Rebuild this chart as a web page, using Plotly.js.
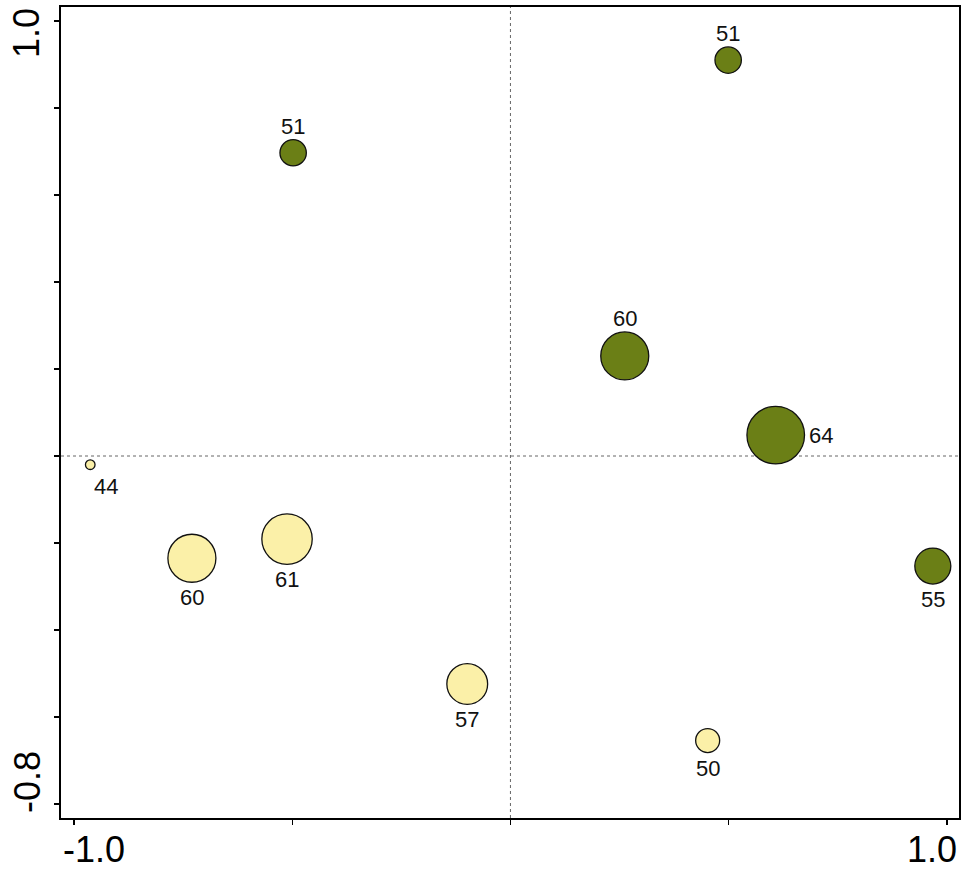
<!DOCTYPE html>
<html>
<head>
<meta charset="utf-8">
<script src="https://cdn.plot.ly/plotly-3.0.1.min.js"></script>
<style>html,body{margin:0;padding:0;background:#fff}#chart{width:963px;height:870px}</style>
</head>
<body>
<div id="chart"></div>
<script>
// Group A (green)
const greenX = [-0.498, 0.499, 0.262, 0.608, 0.968];
const greenY = [0.697, 0.910, 0.230, 0.048, -0.253];
const greenVal = [51, 51, 60, 64, 55];
const greenPos = ['top', 'top', 'top', 'right', 'bottom'];

// Group B (yellow)
const yellowX = [-0.963, -0.730, -0.512, -0.099, 0.452];
const yellowY = [-0.020, -0.235, -0.191, -0.524, -0.654];
const yellowVal = [44, 60, 61, 57, 50];
const yellowPos = ['bottomright', 'bottom', 'bottom', 'bottom', 'bottom'];

// Axis ticks
const xTickVals = [-1.0, -0.5, 0, 0.5, 1.0];
const xLabelVals = [-1.0, 1.0];
const xLabelText = ['-1.0', '1.0'];
const yTickVals = [-0.8, -0.6, -0.4, -0.2, 0, 0.2, 0.4, 0.6, 0.8, 1.0];
const yLabelVals = [1.0, -0.8];
const yLabelText = ['1.0', '-0.8'];

const sizeOf = v => 2.4 * (v - 40);
const font = 'Liberation Sans, Arial, sans-serif';

function trace(xs, ys, vals, color) {
  return {
    type: 'scatter', mode: 'markers',
    x: xs, y: ys,
    marker: {size: vals.map(sizeOf), color: color, opacity: 1,
             line: {color: '#111', width: 1.3}},
    hoverinfo: 'skip', showlegend: false, cliponaxis: false
  };
}

function labels(xs, ys, vals, pos) {
  return vals.map((v, i) => {
    const r = sizeOf(v) / 2;
    const a = {xref: 'x', yref: 'y', x: xs[i], y: ys[i], text: String(v), showarrow: false,
               font: {family: font, size: 22, color: '#111'}};
    if (pos[i] === 'top') { a.yanchor = 'bottom'; a.yshift = r - 1; }
    else if (pos[i] === 'bottom') { a.yanchor = 'top'; a.yshift = -(r + 1); }
    else if (pos[i] === 'right') { a.xanchor = 'left'; a.xshift = r + 2; }
    else if (pos[i] === 'bottomright') { a.xanchor = 'left'; a.xshift = 2; a.yanchor = 'top'; a.yshift = -(r + 2); }
    return a;
  });
}

const data = [
  trace(greenX, greenY, greenVal, '#6b7f16'),
  trace(yellowX, yellowY, yellowVal, '#fbf0a8')
];

const axisCommon = {
  showgrid: false, zeroline: false, showline: true, mirror: true,
  linecolor: '#000', linewidth: 2, ticks: 'outside', ticklen: 5,
  tickwidth: 1.5, tickcolor: '#000', tickmode: 'array', showticklabels: false
};

const tickFont = {family: font, size: 36, color: '#000'};
const xShifts = [20, -15];
const yShifts = [-12, 22];
const axisLabels = xLabelVals.map((v, i) => ({
  xref: 'x', yref: 'paper', x: v, y: 0, text: xLabelText[i], showarrow: false, borderpad: 0,
  font: tickFont, yanchor: 'middle', xanchor: 'center', xshift: xShifts[i], yshift: -31
})).concat(yLabelVals.map((v, i) => ({
  xref: 'paper', yref: 'y', x: 0, y: v, text: yLabelText[i], showarrow: false,
  font: tickFont, textangle: -90, xanchor: 'center', yanchor: 'middle', xshift: -34, yshift: yShifts[i]
})));

const layout = {
  width: 963, height: 870,
  margin: {l: 61, r: 4, t: 7, b: 52},
  paper_bgcolor: '#fff', plot_bgcolor: '#fff',
  xaxis: Object.assign({}, axisCommon, {range: [-1.03, 1.028], tickvals: xTickVals}),
  yaxis: Object.assign({}, axisCommon, {range: [-0.832, 1.032], tickvals: yTickVals}),
  annotations: labels(greenX, greenY, greenVal, greenPos)
    .concat(labels(yellowX, yellowY, yellowVal, yellowPos))
    .concat(axisLabels),
  shapes: [
    {type: 'line', xref: 'x', yref: 'paper', x0: 0, x1: 0, y0: 0, y1: 1, line: {color: '#666', width: 1, dash: 'dot'}, layer: 'below'},
    {type: 'line', xref: 'paper', yref: 'y', x0: 0, x1: 1, y0: 0, y1: 0, line: {color: '#666', width: 1, dash: 'dot'}, layer: 'below'}
  ]
};

Plotly.newPlot('chart', data, layout, {displayModeBar: false, staticPlot: true});
</script>
</body>
</html>
